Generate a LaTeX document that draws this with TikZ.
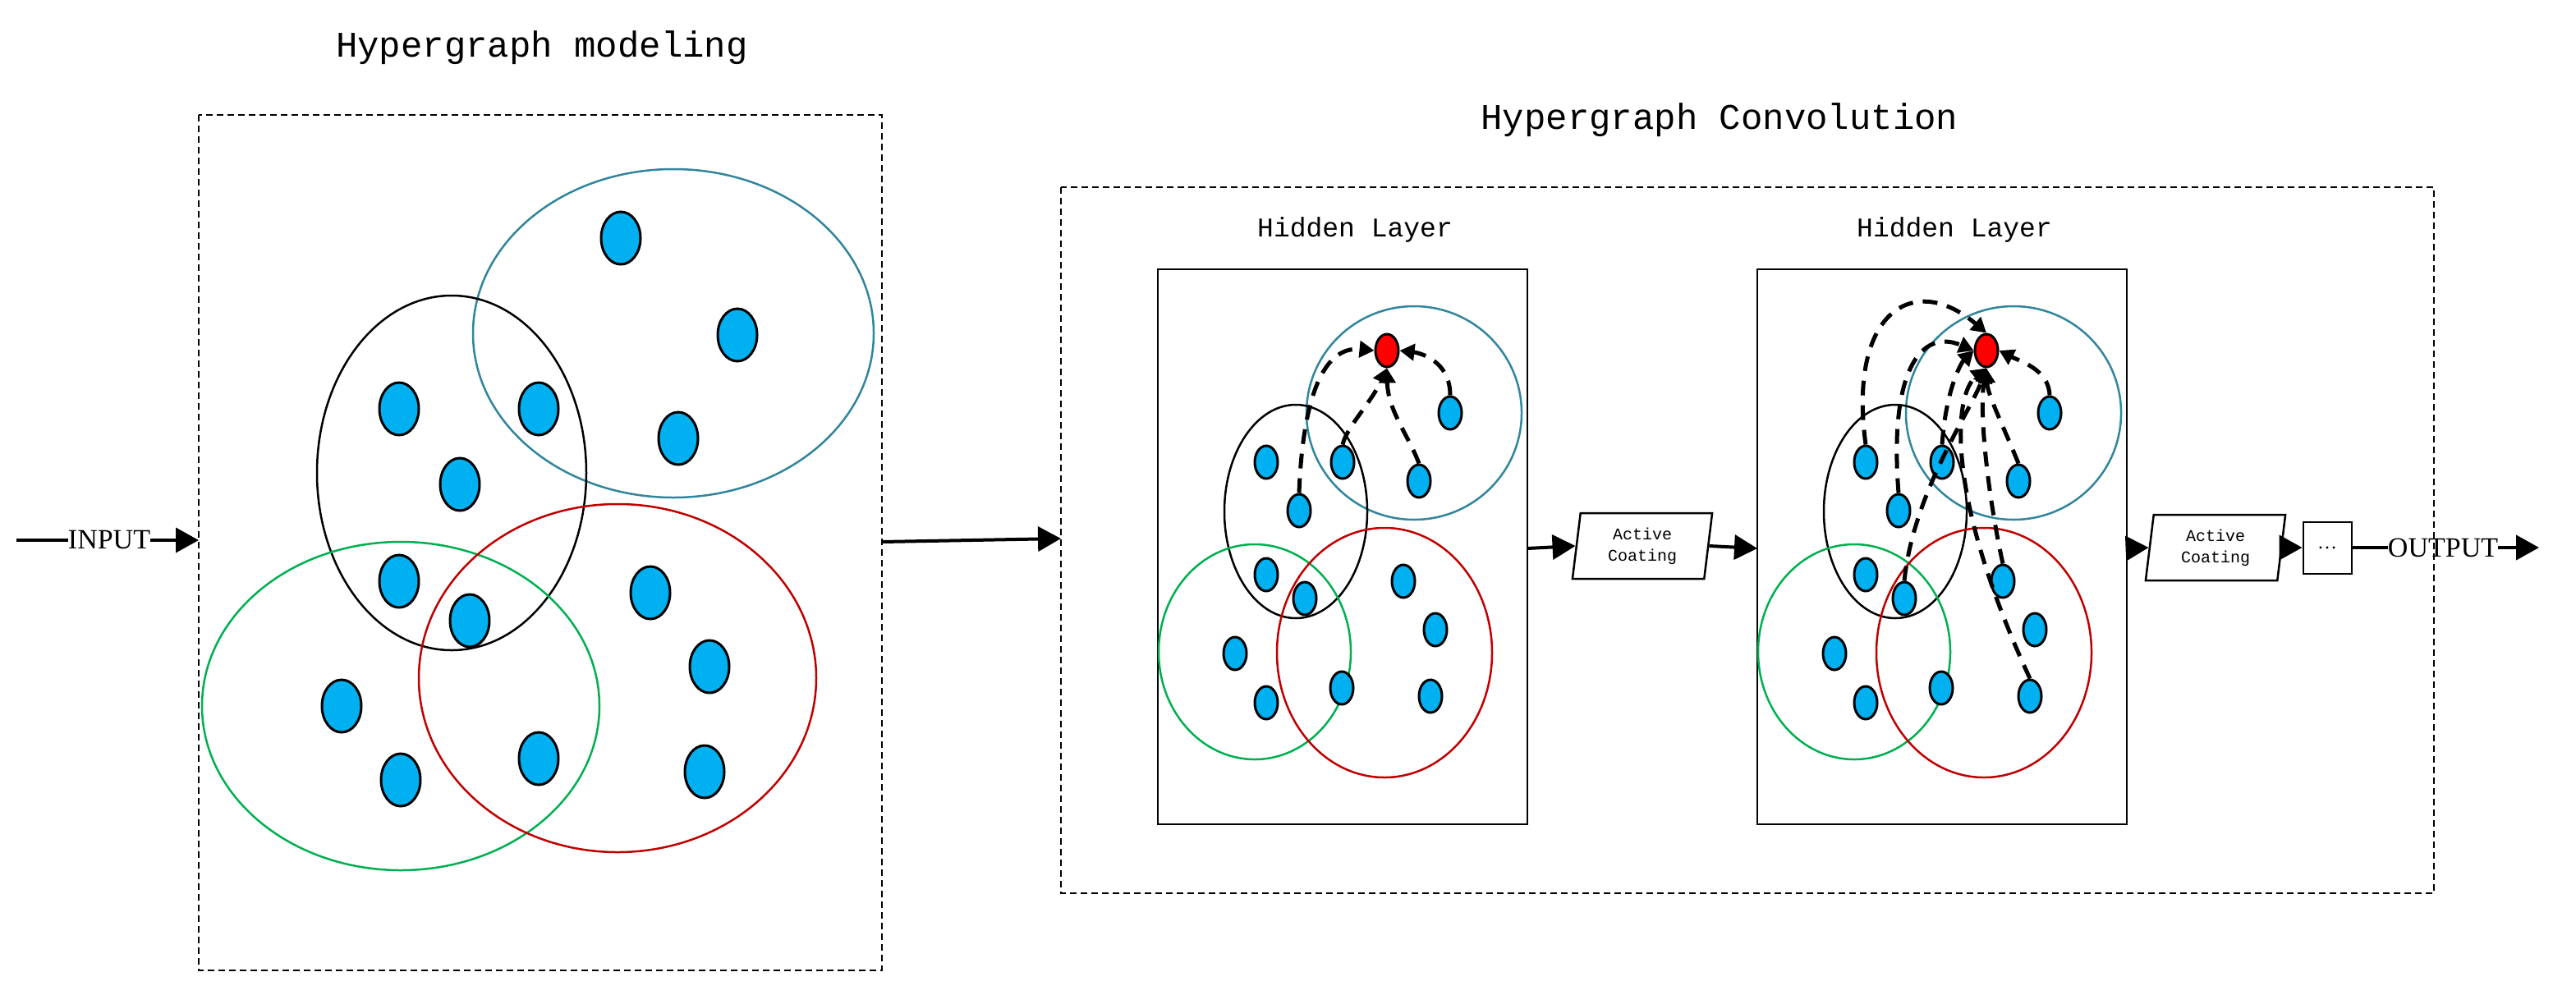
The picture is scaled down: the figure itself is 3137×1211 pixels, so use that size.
\documentclass[tikz,border=0pt]{standalone}
\usepackage{fontspec}
\setmainfont{Liberation Serif}
\newfontfamily\monof{Liberation Mono}
\usetikzlibrary{shapes.geometric,arrows.meta}
\definecolor{teal1}{HTML}{31859C}
\definecolor{grn}{HTML}{00B050}
\definecolor{rd}{HTML}{C00000}
\definecolor{blu}{HTML}{00B0F0}
\tikzset{
  he/.style={line width=2.5pt},
  bn/.style={ellipse,draw=black,line width=3pt,fill=blu,minimum width=28pt,minimum height=40pt,inner sep=0},
  bbn/.style={bn,minimum width=48pt,minimum height=64pt},
  rn/.style={bn,fill=red},
  flow/.style={line width=4pt,-{Triangle[length=28pt,width=30pt]}},
  msg/.style={line width=5pt,dash pattern=on 18pt off 12pt,-{Triangle[length=18pt,width=20pt]}},
  box/.style={draw,line width=2pt},
  dbox/.style={draw,line width=1.6pt,dash pattern=on 8pt off 5pt},
  ttl/.style={font=\monof\fontsize{44}{48}\selectfont},
  htl/.style={font=\monof\fontsize{33}{36}\selectfont},
  ac/.style={trapezium,trapezium left angle=83,trapezium right angle=97,draw,line width=2.5pt,minimum width=96pt,minimum height=80pt,inner sep=0,align=center,font=\monof\fontsize{20}{26}\selectfont}
}
\newcommand{\hlayer}[2]{%
\begin{scope}[shift={(#2,0)}]
\draw[box] (1410,328) rectangle (1860,1004);
\draw[he,teal1] (1722,503) ellipse [x radius=131,y radius=130];
\draw[he] (1578,623) ellipse [x radius=87,y radius=130];
\draw[he,grn] (1528,794) ellipse [x radius=117,y radius=131];
\draw[he,rd] (1686,795) ellipse [x radius=131,y radius=152];
\node[rn] (#1r) at (1689,427) {};
\node[bn] (#1n1) at (1766,503) {};
\node[bn] (#1n2) at (1728,586) {};
\node[bn] (#1n3) at (1635,563) {};
\node[bn] (#1n4) at (1542,563) {};
\node[bn] (#1n5) at (1582,622) {};
\node[bn] (#1n6) at (1542,700) {};
\node[bn] (#1n7) at (1589,729) {};
\node[bn] (#1n8) at (1709,708) {};
\node[bn] (#1n9) at (1748,767) {};
\node[bn] (#1n10) at (1504,796) {};
\node[bn] (#1n11) at (1542,856) {};
\node[bn] (#1n12) at (1634,838) {};
\node[bn] (#1n13) at (1742,848) {};
\node[htl] (#1t) at (1650,280) {Hidden Layer};
\end{scope}}
\begin{document}
\begin{tikzpicture}[x=1pt,y=-1pt]
\useasboundingbox (0,0) rectangle (3137,1211);
% left panel
\node[ttl] (t1) at (660,58) {Hypergraph modeling};
\draw[dbox] (242,140) rectangle (1074,1182);
\coordinate (lbl) at (242,658); \coordinate (lbr) at (1074,660);
\draw[he,teal1] (820,406) ellipse [x radius=244,y radius=200];
\draw[he] (550,576) ellipse [x radius=164,y radius=216];
\draw[he,grn] (488,860) ellipse [x radius=242,y radius=200];
\draw[he,rd] (752,826) ellipse [x radius=242,y radius=212];
\foreach \i/\p in {1/{(756,290)},2/{(898,408)},3/{(826,534)},4/{(656,498)},5/{(486,498)},6/{(560,590)},7/{(486,708)},8/{(572,756)},9/{(792,722)},10/{(864,812)},11/{(858,940)},12/{(656,924)},13/{(416,860)},14/{(488,950)}}
  \node[bbn] (m\i) at \p {};
% input
\coordinate (s) at (20,658);
\node[font=\fontsize{34}{36}\selectfont,inner sep=0] (in) at (133,658) {INPUT};
\draw[line width=4pt] (s) -- (in.west);
\draw[flow] (in.east) -- (lbl);
% right panel
\node[ttl] (t2) at (2094,146) {Hypergraph Convolution};
\draw[dbox] (1292,228) rectangle (2964,1088);
\coordinate (rbl) at (1292,656);
\draw[flow] (lbr) -- (rbl);
\hlayer{a}{0}
\hlayer{b}{730}
\coordinate (a1) at (1860,668); \coordinate (b0) at (2140,668); \coordinate (b1) at (2590,668);
\node[ac] (ac1) at (2000,665) {Active\\Coating};
\node[ac] (ac2) at (2698,667) {Active\\Coating};
\draw[flow] (a1) -- (ac1.west);
\draw[flow] (ac1.east) -- (b0);
\draw[flow] (b1) -- (ac2.west);
\node[box,minimum width=59pt,minimum height=63pt,inner sep=0] (dots) at (2834,667) {\fontsize{24}{24}\selectfont\dots};
\draw[flow] (ac2.east) -- (dots.west);
\node[font=\fontsize{34}{36}\selectfont,inner sep=0] (out) at (2975,667) {OUTPUT};
\draw[line width=4pt] (dots.east) -- (out.west);
\coordinate (oe) at (3092,667);
\draw[flow] (out.east) -- (oe);
% layer 1 messages
\draw[msg] (an5.north) .. controls (1585,520) and (1600,420) .. (ar.west);
\draw[msg] (an3.north) .. controls (1640,520) and (1670,490) .. (ar.south);
\draw[msg] (an2.north) .. controls (1715,530) and (1690,500) .. (ar.south);
\draw[msg] (an1.north) .. controls (1766,440) and (1730,430) .. (ar.east);
% layer 2 messages
\draw[msg] (bn4.north) .. controls (2250,380) and (2330,330) .. (br.north);
\draw[msg] (bn5.north) .. controls (2300,450) and (2340,400) .. (br.west);
\draw[msg] (bn3.north) .. controls (2370,470) and (2390,440) .. (br.west);
\draw[msg] (bn13.north) .. controls (2367,600) and (2380,480) .. (br.south);
\draw[msg] (bn7.north) .. controls (2330,600) and (2400,500) .. (br.south);
\draw[msg] (bn8.north) .. controls (2420,600) and (2410,500) .. (br.south);
\draw[msg] (bn2.north) .. controls (2440,520) and (2420,480) .. (br.south);
\draw[msg] (bn1.north) .. controls (2495,450) and (2460,440) .. (br.east);
\end{tikzpicture}
\end{document}
